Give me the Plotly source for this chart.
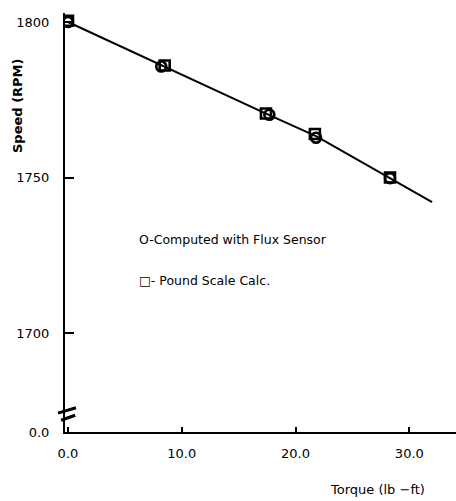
import plotly.graph_objects as go

# ---- data ----
flux_torque = [0.0, 8.2, 17.7, 21.8, 28.3]
flux_speed = [1800.0, 1785.7, 1770.2, 1762.8, 1749.8]

scale_torque = [0.0, 8.5, 17.4, 21.7, 28.3]
scale_speed = [1800.4, 1786.0, 1770.6, 1764.0, 1750.0]

fit_torque = [0.0, 8.3, 17.5, 21.8, 28.3, 32.0]
fit_speed = [1800.0, 1785.9, 1770.4, 1763.3, 1749.9, 1742.1]

x_tick_vals = [0, 10, 20, 30]
x_tick_text = ["0.0", "10.0", "20.0", "30.0"]

Y_MIN, Y_MAX = 1668.2, 1802.9          # bottom of the broken axis is labelled 0.0
y_tick_vals = [Y_MIN, 1700, 1750, 1800]
y_tick_text = ["0.0", "1700", "1750", "1800"]

X_MIN, X_MAX = -0.26, 34.1

FONT = "DejaVu Sans"

fig = go.Figure()

fig.add_trace(go.Scatter(
    x=fit_torque, y=fit_speed, mode="lines",
    line=dict(color="black", width=2), showlegend=False, hoverinfo="skip"))

fig.add_trace(go.Scatter(
    x=flux_torque, y=flux_speed, mode="markers", name="Computed with Flux Sensor",
    marker=dict(symbol="circle-open", size=10, color="black", line=dict(width=2.6)),
    showlegend=False))

fig.add_trace(go.Scatter(
    x=scale_torque, y=scale_speed, mode="markers", name="Pound Scale Calc.",
    marker=dict(symbol="square-open", size=10, color="black", line=dict(width=2.6)),
    showlegend=False))

fig.update_layout(
    width=456, height=501,
    margin=dict(l=65, r=0, t=13, b=69),
    paper_bgcolor="white", plot_bgcolor="white",
    font=dict(family=FONT, color="black", size=12),
    xaxis=dict(
        range=[X_MIN, X_MAX], tickvals=x_tick_vals, ticktext=x_tick_text,
        showline=True, linecolor="black", linewidth=2,
        ticks="inside", ticklen=5, tickwidth=1.5, tickcolor="black",
        showgrid=False, zeroline=False, ticklabelstandoff=8,
        tickfont=dict(family=FONT, size=13, color="black")),
    yaxis=dict(
        range=[Y_MIN, Y_MAX], tickvals=y_tick_vals, ticktext=y_tick_text,
        showline=True, linecolor="black", linewidth=2,
        ticks="inside", ticklen=9, tickwidth=1.5, tickcolor="black",
        showgrid=False, zeroline=False, ticklabelstandoff=11,
        tickfont=dict(family=FONT, size=13, color="black")),
)

# axis break mark on the y axis
fig.add_shape(type="line", xref="paper", yref="paper",
              x0=-0.018, y0=0.045, x1=0.028, y1=0.058,
              line=dict(color="black", width=3))
fig.add_shape(type="line", xref="paper", yref="paper",
              x0=-0.010, y0=0.028, x1=0.026, y1=0.040,
              line=dict(color="black", width=3))

# legend written as text, as in the original
fig.add_annotation(xref="paper", yref="paper", x=(137 - 65) / 391, y=(432 - 239) / 419,
                   xanchor="left", yanchor="middle", showarrow=False,
                   text="O-Computed with Flux Sensor",
                   font=dict(family=FONT, size=12.5, color="black"))
fig.add_annotation(xref="paper", yref="paper", x=(137 - 65) / 391, y=(432 - 280) / 419,
                   xanchor="left", yanchor="middle", showarrow=False,
                   text="<b>□</b>- Pound Scale Calc.",
                   font=dict(family=FONT, size=12.5, color="black"))

# axis titles
fig.add_annotation(xref="paper", yref="paper", x=(377 - 65) / 391, y=(432 - 489) / 419,
                   xanchor="center", yanchor="middle", showarrow=False,
                   text="Torque (lb −ft)",
                   font=dict(family=FONT, size=13, color="black"))
fig.add_annotation(xref="paper", yref="paper", x=(18 - 65) / 391, y=(432 - 106) / 419,
                   xanchor="center", yanchor="middle", showarrow=False, textangle=-90,
                   text="<b>Speed (RPM)</b>",
                   font=dict(family=FONT, size=13, color="black"))

fig.write_html("out.html")
